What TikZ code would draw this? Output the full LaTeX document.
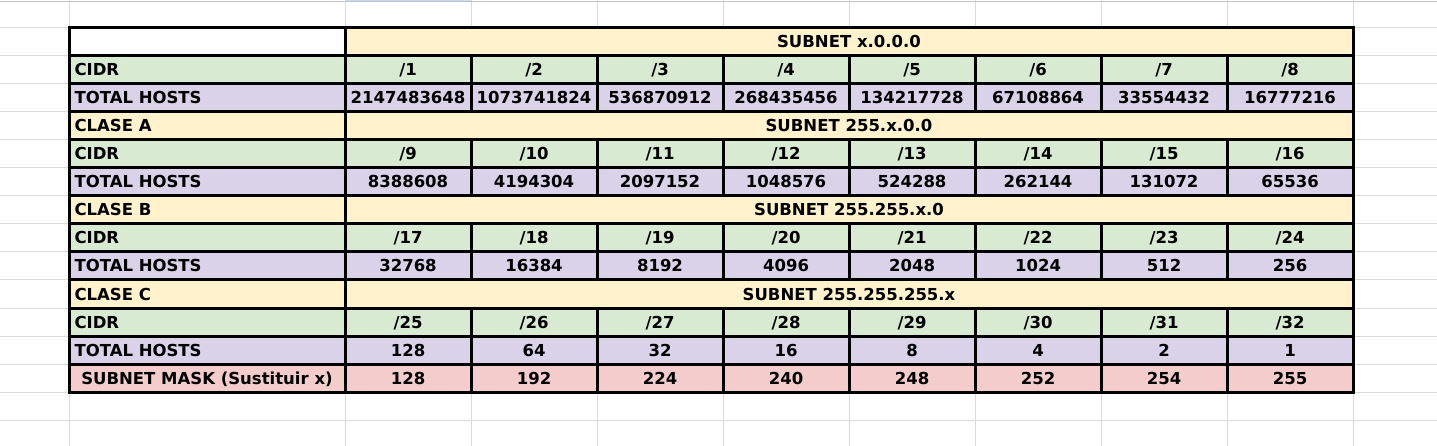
\documentclass[tikz,border=0pt]{standalone}
\usepackage{fontspec}
\setmainfont{DejaVu Sans}
\definecolor{hdr}{HTML}{FFF2CC}
\definecolor{cidr}{HTML}{D9EAD3}
\definecolor{hosts}{HTML}{D9D2E9}
\definecolor{mask}{HTML}{F4CCCC}
\definecolor{gridgray}{HTML}{DADADA}
\definecolor{topgray}{HTML}{C4C4C4}
\definecolor{selblue}{HTML}{C9DAF3}

\begin{document}
\begin{tikzpicture}[x=1pt,y=-1pt,line width=3pt,
		font=\fontsize{16.5}{20}\selectfont\bfseries,
		grid/.style={draw=gridgray,line width=1pt},
		txt/.style={inner sep=0pt,anchor=base},
		lbl/.style={inner sep=0pt,anchor=base west}]
		\useasboundingbox (0,0) rectangle (1437,446);
		% sheet grid behind the table
		\fill[selblue] (345,0) rectangle (471,2);
		\draw[grid] (69,0) -- (69,446);
		\foreach \x in {345,471,...,1353} \draw[grid] (\x,0) -- (\x,446);
		\foreach \y in {28,56,...,420} \draw[grid] (0,\y) -- (1437,\y);
		\draw[topgray,line width=1.5pt] (0,1.5) -- (1437,1.5);
		% subnet header rows
		\draw[fill=white] (69,28) rectangle (345,56);
		\draw[fill=hdr] (345,28) rectangle (1353,56);
		\node[txt] (subnet0) at (849,48) {SUBNET x.0.0.0};
		\foreach \r/\name/\sub in {3/CLASE A/255.x.0.0,6/CLASE B/255.255.x.0,9/CLASE C/255.255.255.x}{
			\draw[fill=hdr] (69,28+28*\r) rectangle (345,56+28*\r);
			\draw[fill=hdr] (345,28+28*\r) rectangle (1353,56+28*\r);
			\node[lbl] (clase\r) at (73,48+28*\r) {\name};
			\node[txt] (subnet\r) at (849,48+28*\r) {SUBNET \sub};
		}
		% cidr rows
		\foreach \r/\s in {1/0,4/8,7/16,10/24}{
			\draw[fill=cidr] (69,28+28*\r) rectangle (345,56+28*\r);
			\node[lbl] (cidrlbl\r) at (73,48+28*\r) {CIDR};
			\foreach \i in {1,...,8}{
				\pgfmathtruncatemacro\n{\s+\i}
				\draw[fill=cidr] (219+126*\i,28+28*\r) rectangle (345+126*\i,56+28*\r);
				\node[txt] (cidr\n) at (282+126*\i,48+28*\r) {/\n};
			}
		}
		% total hosts rows
		\foreach \r in {2,5,8,11}{
			\draw[fill=hosts] (69,28+28*\r) rectangle (1353,56+28*\r);
			\node[lbl] (hostslbl\r) at (73,48+28*\r) {TOTAL HOSTS};
			\foreach \i in {1,...,8}
				\draw (345+126*\i,28+28*\r) -- (345+126*\i,56+28*\r) (219+126*\i,28+28*\r) -- (219+126*\i,56+28*\r);
		}
		\foreach \v [count=\i] in {2147483648,1073741824,536870912,268435456,134217728,67108864,33554432,16777216}
			\node[txt] (hostsA\i) at (282+126*\i,104) {\v};
		\foreach \v [count=\i] in {8388608,4194304,2097152,1048576,524288,262144,131072,65536}
			\node[txt] (hostsB\i) at (282+126*\i,188) {\v};
		\foreach \v [count=\i] in {32768,16384,8192,4096,2048,1024,512,256}
			\node[txt] (hostsC\i) at (282+126*\i,272) {\v};
		\foreach \v [count=\i] in {128,64,32,16,8,4,2,1}
			\node[txt] (hostsD\i) at (282+126*\i,356) {\v};
		% subnet mask row
		\draw[fill=mask] (69,364) rectangle (345,392);
		\node[txt] (masklbl) at (207,384) {SUBNET MASK (Sustituir x)};
		\foreach \v [count=\i] in {128,192,224,240,248,252,254,255}{
			\draw[fill=mask] (219+126*\i,364) rectangle (345+126*\i,392);
			\node[txt] (mask\i) at (282+126*\i,384) {\v};
		}
	\end{tikzpicture}
\end{document}
